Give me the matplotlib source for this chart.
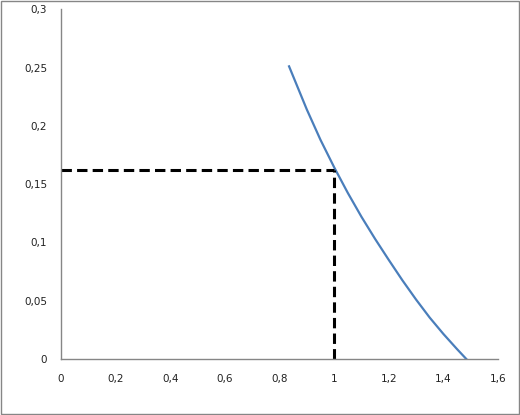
import matplotlib
matplotlib.use("Agg")
import matplotlib.pyplot as plt
from matplotlib.patches import Rectangle
from matplotlib.ticker import FuncFormatter

# curve
curve_x = [0.835, 0.90, 0.95, 1.00, 1.05, 1.10, 1.15, 1.20, 1.25, 1.30, 1.35, 1.40, 1.45, 1.484]
curve_y = [0.251, 0.214, 0.188, 0.1645, 0.1425, 0.122, 0.103, 0.085, 0.0675, 0.051, 0.0355, 0.0215, 0.0085, 0.0]

# dashed guide to the operating point
point_x = 1.0
point_y = 0.1625

x_ticks = [0, 0.2, 0.4, 0.6, 0.8, 1, 1.2, 1.4, 1.6]
y_ticks = [0, 0.05, 0.1, 0.15, 0.2, 0.25, 0.3]


def comma(v, pos):
    s = ('%g' % round(v, 3))
    return s.replace('.', ',')


fig = plt.figure(figsize=(5.2, 4.15), dpi=100)
fig.patches.append(Rectangle((0.002, 0.002), 0.996, 0.995, transform=fig.transFigure,
                             fill=False, edgecolor='#868686', linewidth=1.0))
ax = fig.add_axes([0.1173, 0.1349, 0.8404, 0.8429])

ax.plot(curve_x, curve_y, color='#4a7ebb', linewidth=1.6, solid_joinstyle='round')
ax.plot([0, point_x], [point_y, point_y], color='black', linewidth=2.2, dashes=(3.4, 1.7))
ax.plot([point_x, point_x], [0, point_y], color='black', linewidth=2.2, dashes=(3.4, 1.7))

ax.set_xlim(0, 1.6)
ax.set_ylim(0, 0.3)
ax.set_xticks(x_ticks)
ax.set_yticks(y_ticks)
ax.xaxis.set_major_formatter(FuncFormatter(comma))
ax.yaxis.set_major_formatter(FuncFormatter(comma))
ax.tick_params(axis='both', length=0, labelsize=7.5, colors='#222222')
ax.tick_params(axis='x', pad=11)
ax.tick_params(axis='y', pad=10)

for side in ['top', 'right']:
    ax.spines[side].set_visible(False)
for side in ['left', 'bottom']:
    ax.spines[side].set_color('#868686')
    ax.spines[side].set_linewidth(1.0)

fig.savefig('out.png', dpi=100)
